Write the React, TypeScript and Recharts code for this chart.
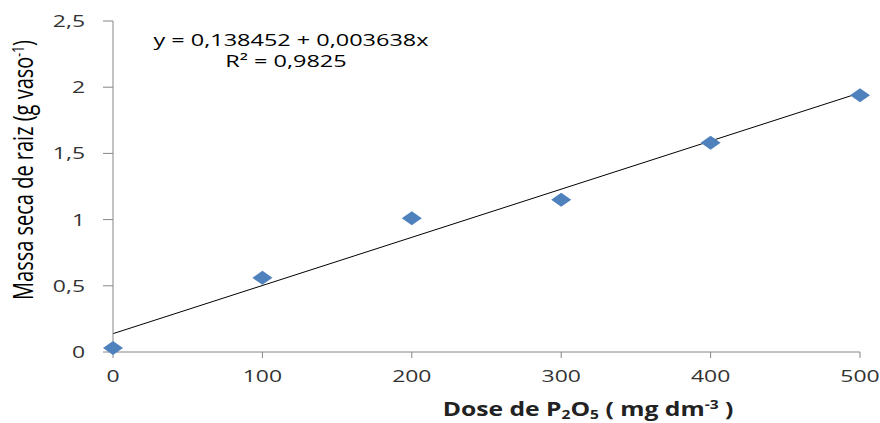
import { ComposedChart, Line, Scatter, XAxis, YAxis } from "recharts"

const doses = [0, 100, 200, 300, 400, 500]
const massa = [0.03, 0.56, 1.01, 1.15, 1.58, 1.94]
const xTicks = [0, 100, 200, 300, 400, 500]
const yTicks = [0, 0.5, 1, 1.5, 2, 2.5]
const intercept = 0.138452
const slope = 0.003638

const points = doses.map((d, i) => ({ x: d, y: massa[i] }))
const trend = [0, 500].map((d) => ({ x: d, trend: intercept + slope * d }))

const fmt = (v: number) => String(v).replace(".", ",")
const SX = 1.35
const FONT = "Open Sans"

const Diamond = (props: any) => {
  const { cx, cy } = props
  return (
    <polygon
      points={`${cx - 10},${cy} ${cx},${cy - 7} ${cx + 10},${cy} ${cx},${cy + 7}`}
      fill="#4F81BD"
    />
  )
}

const XTick = (props: any) => {
  const { x, payload } = props
  return (
    <text
      transform={`translate(${x},382) scale(${SX},1)`}
      textAnchor="middle"
      fontFamily={FONT}
      fontSize={17}
      fill="#333"
    >
      {payload.value}
    </text>
  )
}

const YTick = (props: any) => {
  const { y, payload } = props
  return (
    <text
      transform={`translate(85,${y + 6}) scale(${SX},1)`}
      textAnchor="end"
      fontFamily={FONT}
      fontSize={17}
      fill="#333"
    >
      {fmt(payload.value)}
    </text>
  )
}

const YLabel = () => (
  <text
    transform={`translate(33,170) scale(${SX},1) rotate(-90)`}
    textAnchor="middle"
    fontFamily={FONT}
    fontSize={20}
    fill="#000"
  >
    Massa seca de raiz (g vaso
    <tspan dy={-7} fontSize={12}>-1</tspan>
    <tspan dy={7}>)</tspan>
  </text>
)

const XLabel = () => (
  <text
    transform={`translate(588,416) scale(1.3,1)`}
    textAnchor="middle"
    fontFamily={FONT}
    fontSize={19}
    fontWeight="bold"
    fill="#222"
  >
    Dose de P
    <tspan dy={3} fontSize={12}>2</tspan>
    <tspan dy={-3}>O</tspan>
    <tspan dy={3} fontSize={12}>5</tspan>
    <tspan dy={-3}>{" ( mg dm"}</tspan>
    <tspan dy={-7} fontSize={12}>-3</tspan>
    <tspan dy={7}>{" )"}</tspan>
  </text>
)

export default function App() {
  return (
    <div style={{ position: "absolute", left: 0, top: 0, background: "#fff" }}>
      <ComposedChart
        width={880}
        height={423}
        data={trend}
        margin={{ top: 21, right: 20, left: 0, bottom: 0 }}
      >
        <XAxis
          type="number"
          dataKey="x"
          domain={[0, 500]}
          ticks={xTicks}
          height={71}
          stroke="#868686"
          tickSize={6}
          tick={<XTick />}
        />
        <YAxis
          type="number"
          domain={[0, 2.5]}
          ticks={yTicks}
          width={113}
          stroke="#868686"
          tickSize={10}
          tick={<YTick />}
        />
        <Line
          dataKey="trend"
          stroke="#000"
          strokeWidth={1}
          dot={false}
          isAnimationActive={false}
        />
        <Scatter data={points} dataKey="y" shape={<Diamond />} isAnimationActive={false} />
        <YLabel />
        <XLabel />
        <text transform={`translate(291,46) scale(1.38,1)`} textAnchor="middle" fontFamily={FONT} fontSize={17} fill="#000">
          y = 0,138452 + 0,003638x
        </text>
        <text transform={`translate(286,67) scale(1.38,1)`} textAnchor="middle" fontFamily={FONT} fontSize={17} fill="#000">
          R² = 0,9825
        </text>
      </ComposedChart>
    </div>
  )
}
